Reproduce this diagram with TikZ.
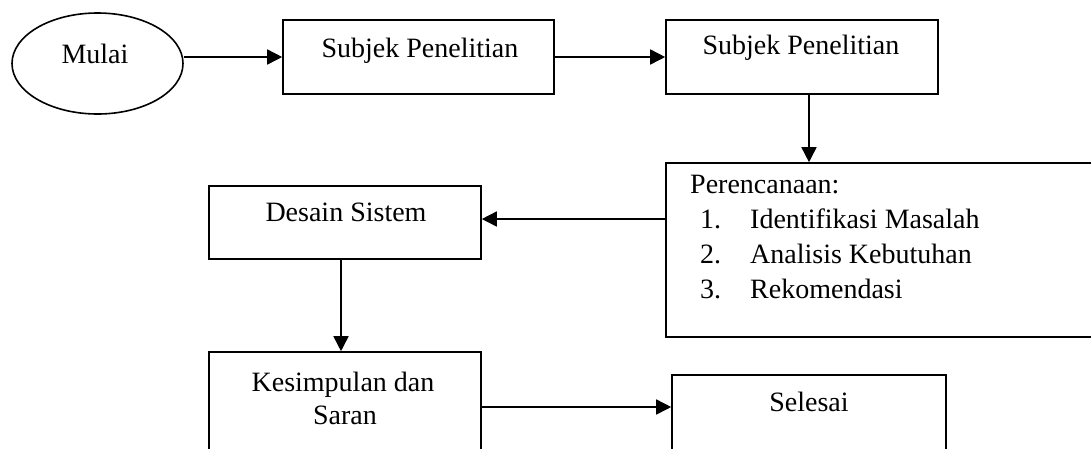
\documentclass[tikz,border=0pt]{standalone}
\usepackage{fontspec}
\setmainfont{Liberation Serif}
\usetikzlibrary{arrows.meta,shapes.geometric}
\begin{document}
\begin{tikzpicture}[x=1pt,y=-1pt,
  box/.style={draw,line width=1.6pt,rectangle,inner sep=0pt},
  oval/.style={draw,line width=1.6pt,ellipse,inner sep=0pt},
  lbl/.style={font=\fontsize{28}{34}\selectfont,anchor=base,inner sep=0pt},
  lbll/.style={font=\fontsize{28}{34}\selectfont,anchor=base west,inner sep=0pt},
  arr/.style={line width=1.6pt,-{Triangle[length=15pt,width=15pt]}}]
\useasboundingbox (0,0) rectangle (1091,448);
\clip (0,0) rectangle (1091,448);
% shapes
\node[oval,minimum width=171pt,minimum height=101pt] (mulai) at (97.5,63.5) {};
\node[box,minimum width=271pt,minimum height=74pt] (box1) at (418.5,57) {};
\node[box,minimum width=272pt,minimum height=74pt] (box2) at (802,57) {};
\node[box,minimum width=440pt,minimum height=174pt] (plan) at (886,250) {};
\node[box,minimum width=272pt,minimum height=73pt] (desain) at (345,222.5) {};
\node[box,minimum width=272pt,minimum height=110pt] (kesim) at (345,407) {};
\node[box,minimum width=274pt,minimum height=90pt] (selesai) at (809,420) {};
% texts
\node[lbl] (tmulai) at (95,63) {Mulai};
\node[lbl] (tbox1) at (420,57) {Subjek Penelitian};
\node[lbl] (tbox2) at (801,54) {Subjek Penelitian};
\node[lbll] (tplan) at (690,193) {Perencanaan:};
\node[lbll] (n1) at (700,228) {1.};
\node[lbll] (i1) at (750,228) {Identifikasi Masalah};
\node[lbll] (n2) at (700,263) {2.};
\node[lbll] (i2) at (750,263) {Analisis Kebutuhan};
\node[lbll] (n3) at (700,298) {3.};
\node[lbll] (i3) at (750,298) {Rekomendasi};
\node[lbl] (tdesain) at (346,221) {Desain Sistem};
\node[lbl] (tkesim1) at (343,391) {Kesimpulan dan};
\node[lbl] (tkesim2) at (345,424) {Saran};
\node[lbl] (tselesai) at (809,411) {Selesai};
% connector guides
\coordinate (cx1) at (809,0);
\coordinate (cy1) at (0,219);
\coordinate (cx2) at (341,0);
\coordinate (cy2) at (0,407);
% connectors
\draw[arr] (mulai.east |- box1.west) -- (box1.west);
\draw[arr] (box1.east) -- (box2.west);
\draw[arr] (box2.south -| cx1) -- (plan.north -| cx1);
\draw[arr] (plan.west |- cy1) -- (desain.east |- cy1);
\draw[arr] (desain.south -| cx2) -- (kesim.north -| cx2);
\draw[arr] (kesim.east |- cy2) -- (selesai.west |- cy2);
\end{tikzpicture}
\end{document}
